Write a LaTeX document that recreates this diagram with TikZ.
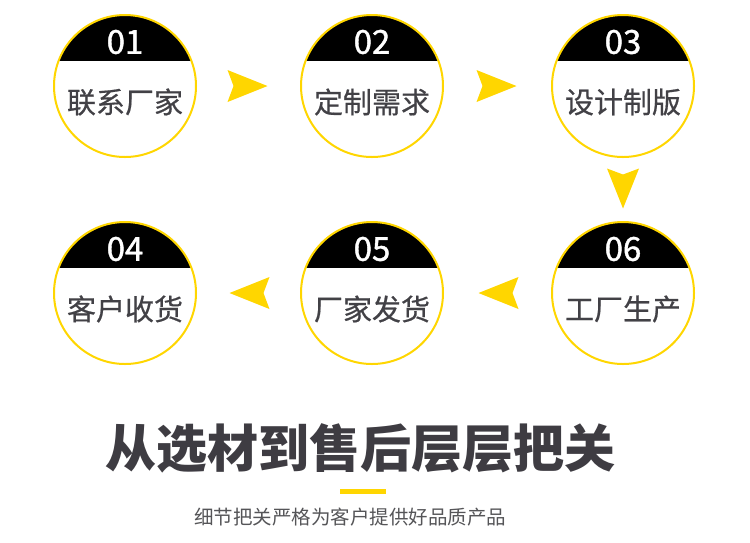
\documentclass[tikz,border=0pt]{standalone}
\usepackage{fontspec}
\newfontfamily\cjk{Noto Sans CJK SC}
\newfontfamily\cjkmed{Noto Sans CJK SC}[FakeBold=0.6]
\newfontfamily\cjknum{Noto Sans CJK SC}[FakeBold=1.2]
\usetikzlibrary{positioning, calc}

\definecolor{stepyellow}{RGB}{255,214,0}
\definecolor{textgray}{RGB}{66,65,70}
\definecolor{titlegray}{RGB}{62,60,66}
\definecolor{subgray}{RGB}{85,85,88}

\tikzset{
    stepcircle/.style={circle, draw=stepyellow, line width=2pt, minimum size=142pt, inner sep=0pt,
        path picture={\fill[black] (path picture bounding box.north west) rectangle ([yshift=-46pt]path picture bounding box.north east);}},
    stepnum/.style={text=white, font=\cjknum\fontsize{33}{33}\selectfont},
    steplabel/.style={text=textgray, font=\cjkmed\fontsize{29}{29}\selectfont},
    chevron/.pic={\fill[stepyellow] (19,0) -- (-21,16) -- (-15,0) -- (-21,-16) -- cycle;}
}

\begin{document}
\begin{tikzpicture}[x=1pt, y=-1pt]
    \useasboundingbox[fill=white] (0,0) rectangle (750,542);

    % Top row
    \node[stepcircle] (c1) at (125,86) {};
    \node[stepcircle] (c2) at (372,86) {};
    \node[stepcircle] (c3) at (623,86) {};
    % Bottom row
    \node[stepcircle] (c4) at (125,293) {};
    \node[stepcircle] (c5) at (372,293) {};
    \node[stepcircle] (c6) at (623,293) {};

    % Numbers and labels
    \foreach \c/\num/\txt in {c1/01/联系厂家, c2/02/定制需求, c3/03/设计制版,
                              c4/04/客户收货, c5/05/厂家发货, c6/06/工厂生产} {
        \node[stepnum] (\c num) at ([yshift=44pt]\c.center) {\num};
        \node[steplabel] (\c txt) at ([yshift=-16pt]\c.center) {\txt};
    }

    % Arrows between steps
    \pic at ($(c1.center)!0.5!(c2.center)$) {chevron};
    \pic at ($(c2.center)!0.5!(c3.center)$) {chevron};
    \pic[rotate=-90] at ($(c3.center)!0.5!(c6.center)$) {chevron};
    \pic[rotate=180] at ($(c6.center)!0.5!(c5.center)$) {chevron};
    \pic[rotate=180] at ($(c5.center)!0.5!(c4.center)$) {chevron};

    % Heading
    \node[text=titlegray, font=\cjk\bfseries\fontsize{51}{51}\selectfont] (title) at (360,448) {从选材到售后层层把关};
    \node[fill=stepyellow, minimum width=46pt, minimum height=5pt, inner sep=0pt] (bar) at (363,491.5) {};
    \node[text=subgray, font=\cjk\fontsize{19.5}{19.5}\selectfont] (sub) at (350,517) {细节把关严格为客户提供好品质产品};
\end{tikzpicture}
\end{document}
